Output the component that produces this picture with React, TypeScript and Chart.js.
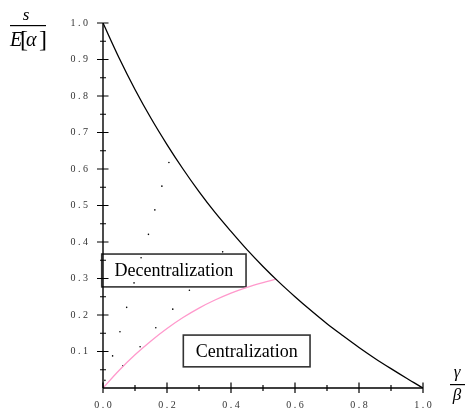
import { useEffect, useRef } from "react";
import { Chart, registerables } from "chart.js";

Chart.register(...registerables);

// boundary curve (black)
const boundaryX = [0, 0.05, 0.1, 0.15, 0.2, 0.25, 0.3, 0.35, 0.4, 0.45, 0.5, 0.55, 0.6, 0.65, 0.7, 0.75, 0.8, 0.85, 0.9, 0.95, 1.0];
const boundaryY = [1.0, 0.905, 0.818, 0.739, 0.667, 0.6, 0.538, 0.481, 0.429, 0.379, 0.333, 0.29, 0.25, 0.212, 0.176, 0.143, 0.111, 0.081, 0.053, 0.026, 0.0];

// separating curve (pink)
const separatorX = [0, 0.05, 0.1, 0.15, 0.2, 0.25, 0.3, 0.35, 0.4, 0.45, 0.5, 0.54];
const separatorY = [0, 0.048, 0.091, 0.129, 0.163, 0.193, 0.219, 0.241, 0.26, 0.276, 0.289, 0.298];

// stray dots
const dotsX = [0.206, 0.184, 0.162, 0.142, 0.119, 0.374, 0.097, 0.27, 0.074, 0.218, 0.053, 0.165, 0.116, 0.03, 0.062, 0.006, -0.049, -0.027];
const dotsY = [0.618, 0.553, 0.488, 0.421, 0.357, 0.373, 0.288, 0.268, 0.221, 0.216, 0.154, 0.165, 0.113, 0.088, 0.061, 0.021, 0.152, 0.083];

const xTickLabels = ["0.0", "0.2", "0.4", "0.6", "0.8", "1.0"];
const yTickLabels = ["", "0.1", "0.2", "0.3", "0.4", "0.5", "0.6", "0.7", "0.8", "0.9", "1.0"];
const xMajorTicks = [0, 0.2, 0.4, 0.6, 0.8, 1.0];
const xMinorTicks = [0.1, 0.3, 0.5, 0.7, 0.9];
const yMajorTicks = [0.1, 0.2, 0.3, 0.4, 0.5, 0.6, 0.7, 0.8, 0.9, 1.0];
const yMinorTicks = [0.05, 0.15, 0.25, 0.35, 0.45, 0.55, 0.65, 0.75, 0.85, 0.95];

const regionLabels = ["Decentralization", "Centralization"];

const spaced = (s: string) => s.split("").join(" ");

export default function App() {
  const ref = useRef<HTMLCanvasElement | null>(null);

  useEffect(() => {
    document.body.style.margin = "0";
    const canvas = ref.current;
    if (!canvas) return;

    const decorations = {
      id: "decorations",
      beforeDatasetsDraw(chart: any) {
        const { ctx } = chart;
        const xs = chart.scales.x;
        const ys = chart.scales.y;
        const boxes = [
          { text: regionLabels[0], x0: -0.004, x1: 0.447, y0: 0.367, y1: 0.277 },
          { text: regionLabels[1], x0: 0.251, x1: 0.647, y0: 0.145, y1: 0.058 },
        ];
        ctx.save();
        for (const b of boxes) {
          const l = xs.getPixelForValue(b.x0);
          const r = xs.getPixelForValue(b.x1);
          const t = ys.getPixelForValue(b.y0);
          const bt = ys.getPixelForValue(b.y1);
          ctx.fillStyle = "#fff";
          ctx.fillRect(l, t, r - l, bt - t);
          ctx.strokeStyle = "#333";
          ctx.lineWidth = 1.6;
          ctx.strokeRect(l, t, r - l, bt - t);
          ctx.fillStyle = "#000";
          ctx.font = "18px 'Liberation Serif'";
          ctx.textAlign = "center";
          ctx.textBaseline = "middle";
          ctx.fillText(b.text, (l + r) / 2, (t + bt) / 2 + 1);
        }
        ctx.restore();
      },
      afterDraw(chart: any) {
        const { ctx } = chart;
        const xs = chart.scales.x;
        const ys = chart.scales.y;
        const x0 = xs.getPixelForValue(0);
        const x1 = xs.getPixelForValue(1);
        const y0 = ys.getPixelForValue(0);
        const y1 = ys.getPixelForValue(1);
        ctx.save();
        ctx.strokeStyle = "#000";
        ctx.lineWidth = 1.4;
        ctx.beginPath();
        ctx.moveTo(x0, y0);
        ctx.lineTo(x1, y0);
        ctx.moveTo(x0, y0);
        ctx.lineTo(x0, y1);
        ctx.stroke();
        ctx.lineWidth = 1.2;
        ctx.beginPath();
        for (const v of xMajorTicks) {
          const p = xs.getPixelForValue(v);
          ctx.moveTo(p, y0 - 5.5);
          ctx.lineTo(p, y0 + 5);
        }
        for (const v of xMinorTicks) {
          const p = xs.getPixelForValue(v);
          ctx.moveTo(p, y0 - 3);
          ctx.lineTo(p, y0 + 3);
        }
        for (const v of yMajorTicks) {
          const p = ys.getPixelForValue(v);
          ctx.moveTo(x0 - 6, p);
          ctx.lineTo(x0 + 5.5, p);
        }
        for (const v of yMinorTicks) {
          const p = ys.getPixelForValue(v);
          ctx.moveTo(x0 - 3, p);
          ctx.lineTo(x0 + 3, p);
        }
        ctx.stroke();

        // axis titles
        ctx.fillStyle = "#000";
        ctx.textBaseline = "alphabetic";
        ctx.textAlign = "center";
        ctx.font = "italic 17px 'Liberation Serif'";
        ctx.fillText("s", 26, 20);
        ctx.fillRect(10, 25, 36, 1.2);
        ctx.textAlign = "left";
        ctx.font = "italic 20px 'Liberation Serif'";
        ctx.fillText("E", 10, 46);
        ctx.font = "24px 'Liberation Serif'";
        ctx.fillText("[", 20, 47);
        ctx.font = "italic 20px 'Liberation Serif'";
        ctx.fillText("α", 26, 46);
        ctx.font = "24px 'Liberation Serif'";
        ctx.fillText("]", 39, 47);

        ctx.textAlign = "center";
        ctx.font = "italic 17px 'Liberation Serif'";
        ctx.fillText("γ", 457, 377);
        ctx.fillRect(450, 384, 15, 1.2);
        ctx.fillText("β", 457, 400);
        ctx.restore();
      },
    };

    const chart = new Chart(canvas, {
      type: "scatter",
      data: {
        datasets: [
          {
            label: "boundary",
            data: boundaryX.map((x, i) => ({ x, y: boundaryY[i] })),
            showLine: true,
            borderColor: "#000",
            borderWidth: 1.3,
            pointRadius: 0,
            cubicInterpolationMode: "monotone",
          },
          {
            label: "separator",
            data: separatorX.map((x, i) => ({ x, y: separatorY[i] })),
            showLine: true,
            borderColor: "#ff99cc",
            borderWidth: 1.3,
            pointRadius: 0,
            cubicInterpolationMode: "monotone",
          },
          {
            label: "dots",
            data: dotsX.map((x, i) => ({ x, y: dotsY[i] })),
            showLine: false,
            pointRadius: 0.8,
            pointBorderWidth: 0,
            pointBackgroundColor: "#000",
            clip: false as any,
          },
        ],
      },
      options: {
        animation: false,
        responsive: false,
        devicePixelRatio: 1,
        layout: { padding: { top: 23, right: 42, left: 0, bottom: 0 }, autoPadding: false },
        plugins: { legend: { display: false }, tooltip: { enabled: false } },
        scales: {
          x: {
            type: "linear",
            min: 0,
            max: 1,
            grid: { display: false, drawTicks: false },
            border: { display: false },
            ticks: {
              stepSize: 0.2,
              padding: 11,
              color: "#333",
              font: { family: "'Liberation Serif'", size: 10 },
              callback: (_v: any, i: number) => spaced(xTickLabels[i] ?? ""),
              maxRotation: 0,
              autoSkip: false,
            },
            afterFit: (s: any) => {
              s.height = 24;
            },
          },
          y: {
            type: "linear",
            min: 0,
            max: 1,
            grid: { display: false, drawTicks: false },
            border: { display: false },
            ticks: {
              stepSize: 0.1,
              padding: 15,
              color: "#333",
              font: { family: "'Liberation Serif'", size: 10 },
              callback: (_v: any, i: number) => spaced(yTickLabels[i] ?? ""),
              autoSkip: false,
            },
            afterFit: (s: any) => {
              s.width = 103;
            },
          },
        },
      },
      plugins: [decorations],
    });
    return () => chart.destroy();
  }, []);

  return (
    <div style={{ position: "absolute", left: 0, top: 0, width: 465, height: 412 }}>
      <canvas ref={ref} width={465} height={412} />
    </div>
  );
}
